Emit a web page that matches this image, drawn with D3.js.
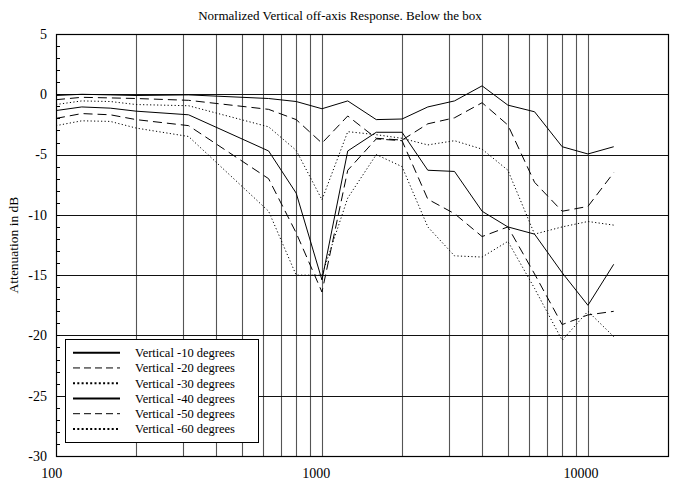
<!DOCTYPE html>
<html lang="en">
<head>
    <meta charset="UTF-8">
    <title>Normalized Vertical off-axis Response</title>
    <script src="https://d3js.org/d3.v7.min.js"></script>
    <style>
        body {
            margin: 0;
            background: #fff;
            font-family: "Liberation Serif", "DejaVu Serif", serif;
        }
        .grid-v { stroke: #555; stroke-width: 1.1; }
        .grid-h { stroke: #111; stroke-width: 1; }
        .curve { fill: none; stroke: #000; stroke-width: 1; }
        text { fill: #000; }
    </style>
</head>
<body>
<div id="chart"></div>
<script>
    // --- data ---
    const freqs = [100, 125, 160, 200, 315, 630, 800, 1000, 1250, 1600, 2000, 2500, 3150, 4000, 5000, 6300, 8000, 10000, 12500];

    const v10 = [-0.1, 0.0, -0.05, -0.1, -0.05, -0.35, -0.6, -1.2, -0.55, -2.1, -2.05, -1.05, -0.55, 0.7, -0.9, -1.45, -4.35, -4.95, -4.35];
    const v20 = [-0.45, -0.25, -0.3, -0.35, -0.5, -1.25, -2.1, -4.05, -1.8, -3.65, -3.8, -2.45, -1.95, -0.7, -2.55, -7.3, -9.7, -9.3, -6.5];
    const v30 = [-0.85, -0.55, -0.6, -0.85, -0.95, -2.7, -4.65, -8.75, -3.1, -3.35, -3.65, -4.2, -3.85, -4.55, -6.3, -11.6, -11.0, -10.55, -10.85];
    const v40 = [-1.35, -1.05, -1.15, -1.4, -1.7, -4.7, -8.2, -15.4, -4.7, -3.15, -3.15, -6.3, -6.4, -9.7, -11.0, -11.6, -14.8, -17.5, -14.1];
    const v50 = [-2.0, -1.6, -1.7, -2.1, -2.6, -7.0, -11.5, -16.4, -6.3, -3.7, -3.85, -8.7, -9.9, -11.8, -11.0, -14.9, -19.1, -18.3, -18.0];
    const v60 = [-2.6, -2.2, -2.25, -2.8, -3.5, -9.7, -15.0, -15.0, -8.6, -5.0, -6.0, -11.0, -13.4, -13.5, -12.2, -16.1, -20.4, -18.0, -20.1];

    const seriesNames = ["Vertical -10 degrees", "Vertical -20 degrees", "Vertical -30 degrees",
                         "Vertical -40 degrees", "Vertical -50 degrees", "Vertical -60 degrees"];
    const seriesValues = [v10, v20, v30, v40, v50, v60];
    const seriesStyle = ["solid", "dashed", "dotted", "solid", "dashed", "dotted"];

    const yTicks = [5, 0, -5, -10, -15, -20, -25, -30];
    const xLabels = [100, 1000, 10000];
    // log grid lines
    const xGrid = [200, 300, 400, 500, 600, 700, 800, 900, 1000,
                   2000, 3000, 4000, 5000, 6000, 7000, 8000, 9000, 10000];

    const width = 678, height = 483;
    const plotLeft = 56, plotRight = 668, plotTop = 34, plotBottom = 456;

    const svg = d3.select("#chart").append("svg")
        .attr("width", width)
        .attr("height", height);

    const x = d3.scaleLog().domain([100, 20000]).range([plotLeft, plotRight]);
    const y = d3.scaleLinear().domain([-30, 5]).range([plotBottom, plotTop]);

    const dash = { solid: null, dashed: "9,5", dotted: "1.2,2.3" };

    // grid
    svg.append("g").selectAll("line")
        .data(xGrid)
        .join("line")
        .attr("class", "grid-v")
        .attr("x1", d => Math.round(x(d)) + 0.5)
        .attr("x2", d => Math.round(x(d)) + 0.5)
        .attr("y1", plotTop)
        .attr("y2", plotBottom);

    svg.append("g").selectAll("line")
        .data(yTicks.filter(d => d < 5 && d > -30))
        .join("line")
        .attr("class", "grid-h")
        .attr("x1", plotLeft)
        .attr("x2", plotRight)
        .attr("y1", d => Math.round(y(d)) + 0.5)
        .attr("y2", d => Math.round(y(d)) + 0.5);

    // minor ticks on the left axis, every 1 dB
    svg.append("g").selectAll("line")
        .data(d3.range(-29, 5))
        .join("line")
        .attr("stroke", "#000")
        .attr("x1", plotLeft)
        .attr("x2", plotLeft + 4)
        .attr("y1", d => Math.round(y(d)) + 0.5)
        .attr("y2", d => Math.round(y(d)) + 0.5);

    // frame
    svg.append("rect")
        .attr("x", plotLeft + 0.5)
        .attr("y", plotTop + 0.5)
        .attr("width", plotRight - plotLeft)
        .attr("height", plotBottom - plotTop)
        .attr("fill", "none")
        .attr("stroke", "#000")
        .attr("stroke-width", 1.2);

    // curves
    const line = d3.line()
        .x((d, i) => x(freqs[i]))
        .y(d => y(d));

    svg.append("g").selectAll("path")
        .data(seriesValues)
        .join("path")
        .attr("class", "curve")
        .attr("d", line)
        .attr("stroke-width", (d, i) => seriesStyle[i] === "dotted" ? 1.3 : 1)
        .attr("stroke-dasharray", (d, i) => dash[seriesStyle[i]]);

    // y labels
    svg.append("g").selectAll("text")
        .data(yTicks)
        .join("text")
        .attr("x", 47)
        .attr("y", d => y(d))
        .attr("dy", "0.35em")
        .attr("text-anchor", "end")
        .attr("font-size", 14)
        .text(d => d);

    // x labels
    svg.append("g").selectAll("text")
        .data(xLabels)
        .join("text")
        .attr("x", d => x(d))
        .attr("y", 478)
        .attr("text-anchor", "middle")
        .attr("font-size", 14)
        .text(d => d)
        .attr("dx", function() { return -0.2 * this.getComputedTextLength(); });

    // title and axis title
    svg.append("text")
        .attr("x", 340)
        .attr("y", 20)
        .attr("text-anchor", "middle")
        .attr("font-size", 13)
        .text("Normalized Vertical off-axis Response. Below the box");

    svg.append("text")
        .attr("transform", "translate(18,245) rotate(-90)")
        .attr("text-anchor", "middle")
        .attr("font-size", 13.5)
        .text("Attenuation in dB");

    // legend
    const legend = svg.append("g");
    legend.append("rect")
        .attr("x", 65.5)
        .attr("y", 339.5)
        .attr("width", 193)
        .attr("height", 103)
        .attr("fill", "#fff")
        .attr("stroke", "#000")
        .attr("stroke-width", 1);

    const rows = legend.selectAll("g")
        .data(seriesNames)
        .join("g")
        .attr("transform", (d, i) => `translate(0,${352.7 + i * 15.25})`);

    rows.append("line")
        .attr("x1", 73)
        .attr("x2", 120)
        .attr("stroke", "#000")
        .attr("stroke-width", (d, i) => seriesStyle[i] === "dashed" ? 1 : 2)
        .attr("stroke-dasharray", (d, i) => seriesStyle[i] === "dashed" ? "7,4" : (seriesStyle[i] === "dotted" ? "2,2.3" : null));

    rows.append("text")
        .attr("x", 135)
        .attr("dy", "0.35em")
        .attr("font-size", 12.5)
        .text(d => d);
</script>
</body>
</html>
